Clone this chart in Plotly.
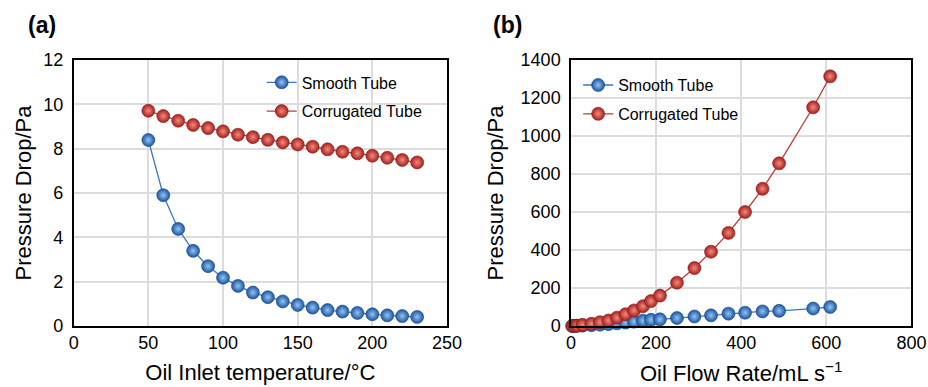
import plotly.graph_objects as go

# Panel (a) data
temp_a = [50, 60, 70, 80, 90, 100, 110, 120, 130, 140, 150, 160, 170, 180, 190, 200, 210, 220, 230]
smooth_a = [8.39, 5.90, 4.38, 3.39, 2.70, 2.18, 1.81, 1.51, 1.30, 1.11, 0.95, 0.83, 0.72, 0.65, 0.59, 0.53, 0.48, 0.45, 0.41]
corr_a = [9.71, 9.47, 9.26, 9.07, 8.93, 8.78, 8.63, 8.52, 8.40, 8.28, 8.19, 8.09, 7.97, 7.86, 7.79, 7.68, 7.59, 7.49, 7.38]

# Panel (b) data
flow_b = [3, 8, 14, 27, 48, 68, 88, 108, 128, 148, 169, 188, 209, 249, 290, 329, 370, 409, 450, 489, 569, 609]
smooth_b = [0, 0, 1, 2, 4, 7, 10, 14, 18, 23, 28, 33, 35, 42, 50, 56, 65, 70, 77, 80, 92, 100]
corr_b = [0, 1, 2, 6, 12, 20, 29, 44, 62, 82, 104, 131, 160, 228, 305, 391, 490, 600, 722, 856, 1151, 1314]

x_ticks_a = [0, 50, 100, 150, 200, 250]
y_ticks_a = [0, 2, 4, 6, 8, 10, 12]
x_ticks_b = [0, 200, 400, 600, 800]
y_ticks_b = [0, 200, 400, 600, 800, 1000, 1200, 1400]

BLUE_LINE = "#3f75bd"
RED_LINE = "#c23b35"
blue_marker = dict(size=13, color="#1d56a3", line=dict(color="#184684", width=0.6),
                   gradient=dict(type="radial", color="#92c4f2"))
red_marker = dict(size=13, color="#a8201c", line=dict(color="#861a17", width=0.6),
                  gradient=dict(type="radial", color="#f38a80"))

fig = go.Figure()
fig.add_trace(go.Scatter(x=temp_a, y=smooth_a, mode="lines+markers", name="Smooth Tube",
                         line=dict(color=BLUE_LINE, width=1.3), marker=blue_marker,
                         xaxis="x", yaxis="y", legend="legend", legendgroup="a1", cliponaxis=False))
fig.add_trace(go.Scatter(x=temp_a, y=corr_a, mode="lines+markers", name="Corrugated Tube",
                         line=dict(color=RED_LINE, width=1.3), marker=red_marker,
                         xaxis="x", yaxis="y", legend="legend", legendgroup="a2", cliponaxis=False))
fig.add_trace(go.Scatter(x=flow_b, y=smooth_b, mode="lines+markers", name="Smooth Tube",
                         line=dict(color=BLUE_LINE, width=1.3), marker=blue_marker,
                         xaxis="x2", yaxis="y2", legend="legend2", legendgroup="b1", cliponaxis=False))
fig.add_trace(go.Scatter(x=flow_b, y=corr_b, mode="lines+markers", name="Corrugated Tube",
                         line=dict(color=RED_LINE, width=1.3), marker=red_marker,
                         xaxis="x2", yaxis="y2", legend="legend2", legendgroup="b2", cliponaxis=False))

FONT = "Liberation Sans, Arial, sans-serif"
tickfont = dict(family=FONT, size=18, color="black")
titlefont = dict(family=FONT, size=22, color="black")
common = dict(showline=True, mirror=True, linecolor="black", linewidth=1.5,
              showgrid=True, gridcolor="#dcdcdc", gridwidth=1.5, zeroline=False,
              ticks="", tickfont=tickfont, automargin=False)

fig.update_layout(
    template="none",
    width=928, height=387,
    margin=dict(l=0, r=0, t=0, b=0),
    paper_bgcolor="white", plot_bgcolor="white",
    font=dict(family=FONT, color="black"),
    xaxis=dict(domain=[0.0794, 0.4817], range=[0, 250], tickvals=x_ticks_a,
               title=dict(text="Oil Inlet temperature/°C", font=titlefont, standoff=12), **common),
    yaxis=dict(domain=[0.1576, 0.845], range=[0, 12], tickvals=y_ticks_a, ticklabelstandoff=5,
               title=dict(text="Pressure Drop/Pa", font=titlefont, standoff=6), **common),
    xaxis2=dict(domain=[0.6153, 0.9822], range=[0, 800], tickvals=x_ticks_b, anchor="y2",
                title=dict(text="Oil Flow Rate/mL s<sup>−1</sup>", font=titlefont, standoff=13), **common),
    yaxis2=dict(domain=[0.1576, 0.845], range=[0, 1400], tickvals=y_ticks_b, anchor="x2",
                ticklabelstandoff=5,
                title=dict(text="Pressure Drop/Pa", font=titlefont, standoff=11), **common),
    legend=dict(x=0.282, y=0.831, xanchor="left", yanchor="top", bgcolor="rgba(0,0,0,0)",
                font=dict(family=FONT, size=16, color="black"), tracegroupgap=5),
    legend2=dict(x=0.623, y=0.824, xanchor="left", yanchor="top", bgcolor="rgba(0,0,0,0)",
                 font=dict(family=FONT, size=16, color="black"), tracegroupgap=5),
    annotations=[
        dict(text="<b>(a)</b>", x=26 / 928, y=1 - 25 / 387, xref="paper", yref="paper",
             xanchor="left", yanchor="middle", showarrow=False,
             font=dict(family=FONT, size=23, color="black")),
        dict(text="<b>(b)</b>", x=491 / 928, y=1 - 25 / 387, xref="paper", yref="paper",
             xanchor="left", yanchor="middle", showarrow=False,
             font=dict(family=FONT, size=23, color="black")),
    ],
)

fig.write_html("out.html")
